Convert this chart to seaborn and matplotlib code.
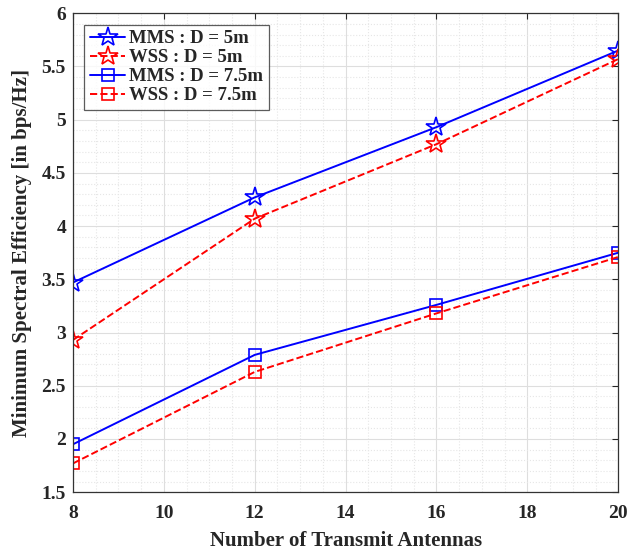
import numpy as np
import pandas as pd
import seaborn as sns
import matplotlib.pyplot as plt
from matplotlib.ticker import MultipleLocator, FormatStrFormatter

antennas = [8, 12, 16, 20]
mms_5 = [3.47, 4.27, 4.93, 5.65]
wss_5 = [2.93, 4.07, 4.77, 5.57]
mms_75 = [1.95, 2.79, 3.26, 3.75]
wss_75 = [1.77, 2.63, 3.18, 3.71]

labels = ["MMS : D = 5m", "WSS : D = 5m", "MMS : D = 7.5m", "WSS : D = 7.5m"]

sns.set_style("white")
plt.rcParams['font.family'] = ['Liberation Serif', 'DejaVu Serif']
plt.rcParams['font.weight'] = 'bold'

fig = plt.figure(figsize=(6.4, 5.53), dpi=100)
ax = fig.add_axes([0.114, 0.110, 0.852, 0.866])

series = [
    (mms_5, "blue", "-", "*", 15),
    (wss_5, "red", "--", "*", 15),
    (mms_75, "blue", "-", "s", 8),
    (wss_75, "red", "--", "s", 8),
]
for (vals, col, ls, mk, ms), lab in zip(series, labels):
    kw = {"dashes": (4, 2.5)} if ls == "--" else {}
    sns.lineplot(x=antennas, y=vals, ax=ax, color=col, linestyle=ls, marker=mk,
                 markersize=ms, markerfacecolor="none", markeredgecolor=col,
                 markeredgewidth=1.2, linewidth=1.4, label=lab, **kw)

ax.set_xlim(8, 20)
ax.set_ylim(1.5, 6)
ax.xaxis.set_major_locator(MultipleLocator(2))
ax.xaxis.set_minor_locator(MultipleLocator(0.5))
ax.yaxis.set_major_locator(MultipleLocator(0.5))
ax.yaxis.set_minor_locator(MultipleLocator(0.1))
ax.yaxis.set_major_formatter(FormatStrFormatter("%g"))
ax.grid(which="major", color="#dedede", linewidth=0.8)
ax.grid(which="minor", color="#e6e6e6", linestyle=":", linewidth=0.8)
ax.tick_params(which="both", direction="in", top=True, right=True, length=4, width=0.8)
ax.tick_params(which="minor", length=0)
ax.tick_params(axis="x", labelsize=14, pad=9)
ax.tick_params(axis="y", labelsize=14, pad=5)
for s in ax.spines.values():
    s.set_color("#333333")
    s.set_linewidth(0.9)

ax.set_xlabel("Number of Transmit Antennas", fontsize=15, fontweight="bold", labelpad=7)
ax.set_ylabel("Minimum Spectral Efficiency [in bps/Hz]", fontsize=15, fontweight="bold", labelpad=7)

leg = ax.legend(loc="upper left", fontsize=13.5, frameon=True, fancybox=False,
                edgecolor="#333333", handlelength=1.9, handletextpad=0.2,
                borderpad=0.3, labelspacing=0.1, borderaxespad=0.6)
leg.get_frame().set_linewidth(0.9)

fig.savefig("out.png", dpi=100)
